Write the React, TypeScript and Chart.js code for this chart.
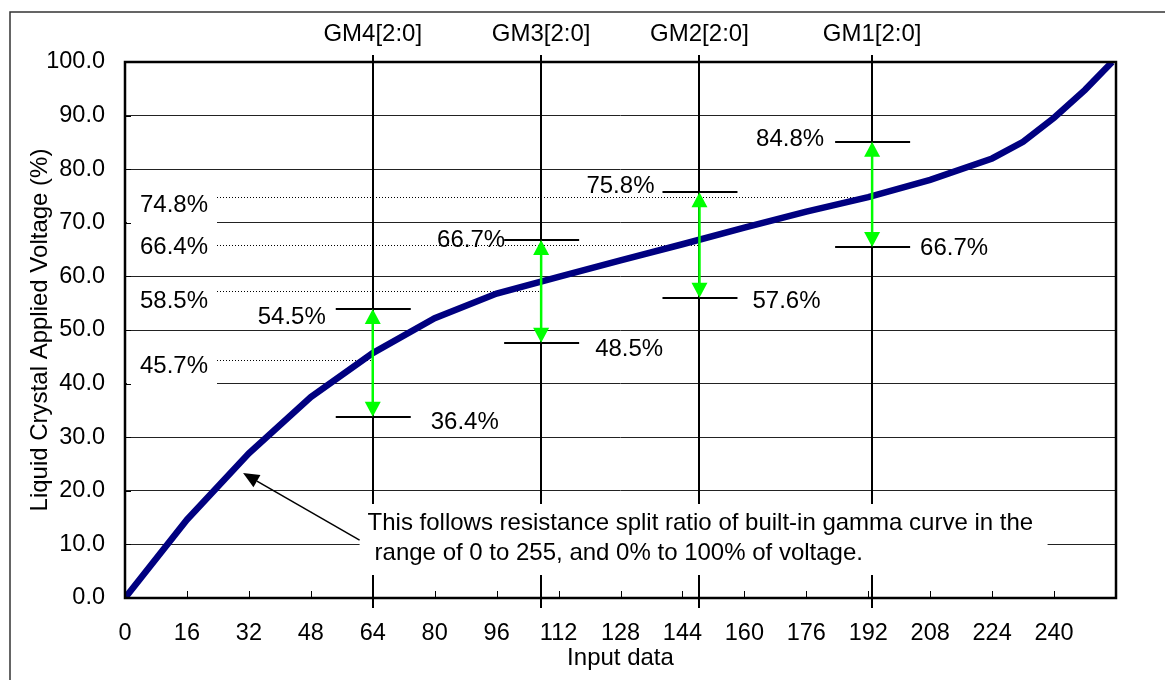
import React, { useEffect, useRef } from 'react';
import { Chart, registerables } from 'chart.js';

Chart.register(...registerables);

// ---- data ----
const inputCodes = [0, 16, 32, 48, 64, 80, 96, 112, 128, 144, 160, 176, 192, 208, 224, 232, 240, 248, 255];
const voltagePct = [0, 14.6, 27.0, 37.5, 45.7, 52.2, 56.8, 59.9, 63.0, 66.0, 69.1, 72.1, 74.8, 78.0, 82.0, 85.1, 89.6, 94.8, 100];

const gmLabels = ['GM4[2:0]', 'GM3[2:0]', 'GM2[2:0]', 'GM1[2:0]'];
const gmInputs = [64, 107.5, 148.4, 193];
const gmUpper = [53.9, 66.8, 75.7, 85.1];
const gmLower = [33.8, 47.6, 56.0, 65.5];
const gmUpperLabels = ['54.5%', '66.7%', '75.8%', '84.8%'];
const gmLowerLabels = ['36.4%', '48.5%', '57.6%', '66.7%'];

const refLabels = ['74.8%', '66.4%', '58.5%', '45.7%'];
const refLevels = [74.8, 65.9, 57.3, 44.4];
const refGmIndex = [3, 2, 1, 0];

const xTickStep = 16;
const yTickStep = 10;
const xMax = 256;
const yMax = 100;

const annotationLines = [
  'This follows resistance split ratio of built-in gamma curve in the',
  'range of 0 to 255, and 0% to 100% of voltage.',
];
const arrowTip = [30.5, 23.3];
const arrowTail = [60.6, 10.8];

const yTitle = 'Liquid Crystal Applied Voltage (%)';
const xTitle = 'Input data';

// ---- layout / style (pixel offsets relative to scale positions) ----
const FONT = '"Liberation Sans", Arial, Helvetica, sans-serif';
const FS = 24;
const TICK_FS = 23.5;
const upperLabelDx = [-47, -36, -45, -48];
const upperLabelDy = [8, 0, -6, -2];
const lowerLabelDx = [58, 54, 53, 48];
const lowerLabelDy = [6, 7, 4, 1];
const refLabelDy = [8, 3, 11, 6];

const overlay = {
  id: 'overlay',
  beforeDatasetsDraw(chart: any) {
    const ctx = chart.ctx as CanvasRenderingContext2D;
    const xs = chart.scales.x;
    const ys = chart.scales.y;
    const area = chart.chartArea;
    ctx.save();
    // white label boxes on the left (hide gridlines)
    refLabels.forEach((_, i) => {
      const y = ys.getPixelForValue(refLevels[i]) + refLabelDy[i];
      ctx.fillStyle = '#fff';
      ctx.fillRect(area.left + 2, y - 19, 90, 40);
    });
    // dotted reference lines
    ctx.strokeStyle = '#000';
    ctx.lineWidth = 1;
    ctx.setLineDash([1, 2]);
    refLevels.forEach((v, i) => {
      const y = Math.round(ys.getPixelForValue(v)) + 0.5;
      const xe = xs.getPixelForValue(gmInputs[refGmIndex[i]]);
      ctx.beginPath();
      ctx.moveTo(area.left + 92, y);
      ctx.lineTo(xe, y);
      ctx.stroke();
    });
    ctx.setLineDash([]);
    // GM vertical lines
    ctx.strokeStyle = '#000';
    ctx.lineWidth = 2;
    gmInputs.forEach((g) => {
      const x = Math.round(xs.getPixelForValue(g));
      ctx.beginPath();
      ctx.moveTo(x, area.top - 7);
      ctx.lineTo(x, area.bottom + 10);
      ctx.stroke();
    });
    // marker segments
    ctx.lineWidth = 2;
    gmInputs.forEach((g, i) => {
      const x = xs.getPixelForValue(g);
      [gmUpper[i], gmLower[i]].forEach((v) => {
        const y = Math.round(ys.getPixelForValue(v));
        ctx.beginPath();
        ctx.moveTo(x - 37, y);
        ctx.lineTo(x + 38, y);
        ctx.stroke();
      });
    });
    // annotation box
    const tx = xs.getPixelForValue(arrowTail[0]);
    ctx.fillStyle = '#fff';
    ctx.fillRect(tx, area.bottom - 94, 688, 71);
    ctx.restore();
  },
  afterDatasetsDraw(chart: any) {
    const ctx = chart.ctx as CanvasRenderingContext2D;
    const xs = chart.scales.x;
    const ys = chart.scales.y;
    const area = chart.chartArea;
    ctx.save();
    // green double arrows
    ctx.strokeStyle = '#00ff00';
    ctx.fillStyle = '#00ff00';
    ctx.lineWidth = 2.5;
    gmInputs.forEach((g, i) => {
      const x = xs.getPixelForValue(g);
      const yt = ys.getPixelForValue(gmUpper[i]);
      const yb = ys.getPixelForValue(gmLower[i]);
      const hl = 15, hw = 8;
      ctx.beginPath();
      ctx.moveTo(x, yt + hl - 1);
      ctx.lineTo(x, yb - hl + 1);
      ctx.stroke();
      ctx.beginPath();
      ctx.moveTo(x, yt);
      ctx.lineTo(x - hw, yt + hl);
      ctx.lineTo(x + hw, yt + hl);
      ctx.closePath();
      ctx.fill();
      ctx.beginPath();
      ctx.moveTo(x, yb);
      ctx.lineTo(x - hw, yb - hl);
      ctx.lineTo(x + hw, yb - hl);
      ctx.closePath();
      ctx.fill();
    });
    // plot frame
    ctx.strokeStyle = '#000';
    ctx.lineWidth = 2.5;
    ctx.strokeRect(area.left, area.top, area.right - area.left, area.bottom - area.top);
    // inside tick marks
    ctx.lineWidth = 1;
    for (let v = xTickStep; v < xMax; v += xTickStep) {
      const x = Math.round(xs.getPixelForValue(v)) + 0.5;
      ctx.beginPath();
      ctx.moveTo(x, area.bottom);
      ctx.lineTo(x, area.bottom - 7);
      ctx.stroke();
    }
    for (let v = yTickStep; v < yMax; v += yTickStep) {
      const y = Math.round(ys.getPixelForValue(v)) + 0.5;
      ctx.beginPath();
      ctx.moveTo(area.left, y);
      ctx.lineTo(area.left + 6, y);
      ctx.stroke();
    }
    // texts
    ctx.fillStyle = '#000';
    ctx.font = `${FS}px ${FONT}`;
    ctx.textBaseline = 'middle';
    refLabels.forEach((t, i) => {
      ctx.textAlign = 'left';
      ctx.fillText(t, area.left + 15, ys.getPixelForValue(refLevels[i]) + refLabelDy[i]);
    });
    gmInputs.forEach((g, i) => {
      const x = xs.getPixelForValue(g);
      ctx.textAlign = 'right';
      ctx.fillText(gmUpperLabels[i], x + upperLabelDx[i], ys.getPixelForValue(gmUpper[i]) + upperLabelDy[i]);
      ctx.textAlign = 'left';
      ctx.fillText(gmLowerLabels[i], x + lowerLabelDx[i], ys.getPixelForValue(gmLower[i]) + lowerLabelDy[i]);
    });
    // annotation text + arrow
    const tx = xs.getPixelForValue(arrowTail[0]);
    const ty = ys.getPixelForValue(arrowTail[1]);
    ctx.textAlign = 'left';
    ctx.fillText(annotationLines[0], tx + 8, area.bottom - 75);
    ctx.fillText(annotationLines[1], tx + 15, area.bottom - 45);
    const ax = xs.getPixelForValue(arrowTip[0]);
    const ay = ys.getPixelForValue(arrowTip[1]);
    const ang = Math.atan2(ay - ty, ax - tx);
    const hl = 16, hw = 7;
    const bx = ax - hl * Math.cos(ang);
    const by = ay - hl * Math.sin(ang);
    ctx.strokeStyle = '#000';
    ctx.lineWidth = 1.5;
    ctx.beginPath();
    ctx.moveTo(tx, ty);
    ctx.lineTo(bx, by);
    ctx.stroke();
    ctx.beginPath();
    ctx.moveTo(ax, ay);
    ctx.lineTo(bx + hw * Math.sin(ang), by - hw * Math.cos(ang));
    ctx.lineTo(bx - hw * Math.sin(ang), by + hw * Math.cos(ang));
    ctx.closePath();
    ctx.fill();
    ctx.restore();
  },
  afterDraw(chart: any) {
    const ctx = chart.ctx as CanvasRenderingContext2D;
    const xs = chart.scales.x;
    const area = chart.chartArea;
    ctx.save();
    // outer frame
    ctx.strokeStyle = '#333';
    ctx.lineWidth = 1.5;
    ctx.strokeRect(10, 12, 1200, 700);
    ctx.fillStyle = '#000';
    ctx.font = `${FS}px ${FONT}`;
    ctx.textAlign = 'center';
    ctx.textBaseline = 'middle';
    gmLabels.forEach((t, i) => {
      ctx.fillText(t, xs.getPixelForValue(gmInputs[i]), area.top - 28);
    });
    ctx.fillText(xTitle, (area.left + area.right) / 2, area.bottom + 60);
    ctx.translate(40, (area.top + area.bottom) / 2);
    ctx.rotate(-Math.PI / 2);
    ctx.fillText(yTitle, 0, 0);
    ctx.restore();
  },
};

export default function App() {
  const ref = useRef<HTMLCanvasElement | null>(null);
  useEffect(() => {
    if (!ref.current) return;
    Chart.defaults.font.family = FONT;
    const chart = new Chart(ref.current, {
      type: 'line',
      data: {
        datasets: [
          {
            data: inputCodes.map((x, i) => ({ x, y: voltagePct[i] })),
            borderColor: '#000080',
            borderWidth: 6.5,
            pointRadius: 0,
            tension: 0,
            fill: false,
          },
        ],
      },
      options: {
        animation: false,
        responsive: false,
        devicePixelRatio: 1,
        layout: { padding: { top: 62, right: 49, left: 0, bottom: 0 } },
        plugins: { legend: { display: false }, tooltip: { enabled: false } },
        scales: {
          x: {
            type: 'linear',
            min: 0,
            max: xMax,
            border: { display: false },
            grid: { display: false, drawTicks: false },
            ticks: {
              stepSize: xTickStep,
              padding: 21,
              color: '#000',
              font: { size: TICK_FS, family: FONT },
              maxRotation: 0,
              autoSkip: false,
              callback: (v: any) => (v >= xMax ? '' : String(v)),
            },
            afterFit: (s: any) => {
              s.height = 82;
            },
          },
          y: {
            type: 'linear',
            min: 0,
            max: yMax,
            border: { display: false },
            grid: { color: '#222', lineWidth: 1, drawTicks: false },
            ticks: {
              stepSize: yTickStep,
              padding: 20,
              color: '#000',
              font: { size: TICK_FS, family: FONT },
              callback: (v: any) => Number(v).toFixed(1),
            },
            afterFit: (s: any) => {
              s.width = 125;
            },
          },
        },
      },
      plugins: [overlay],
    });
    return () => chart.destroy();
  }, []);
  return (
    <div style={{ position: 'fixed', left: 0, top: 0, width: 1165, height: 680, background: '#fff' }}>
      <canvas ref={ref} width={1165} height={680} style={{ width: 1165, height: 680, display: 'block' }} />
    </div>
  );
}
